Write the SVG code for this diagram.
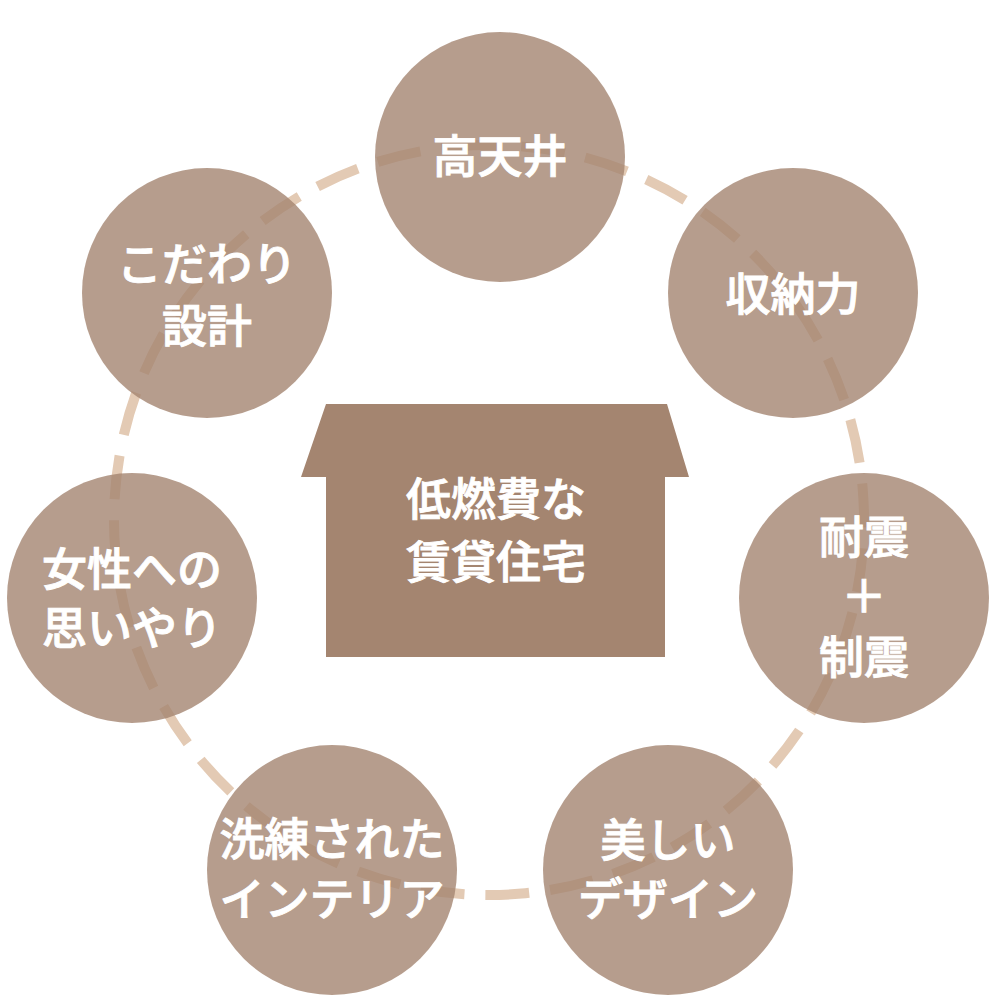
<svg xmlns="http://www.w3.org/2000/svg" width="1000" height="1000" viewBox="0 0 1000 1000">
<style>
.node{fill:#a48570;fill-opacity:0.8}
.lbl{font-family:"Noto Sans CJK JP","Noto Sans",sans-serif;font-size:45px;font-weight:500;fill:#ffffff;stroke:#ffffff;stroke-width:0.9;text-anchor:middle}
.ring{fill:none;stroke:#e3cab4;stroke-width:10;stroke-dasharray:44 21}
</style>
<rect width="1000" height="1000" fill="#ffffff"/>
<g id="connectors">
<circle class="ring" cx="489" cy="520" r="375" transform="rotate(-95 489 520)"/>
</g>
<g id="center">
<path d="M326,404 L667,404 L689,477 L665,477 L665,657 L326,657 L326,477 L301,477 Z" fill="#a48570"/>
<text class="lbl" x="496" y="516">低燃費な</text>
<text class="lbl" x="496" y="579">賃貸住宅</text>
</g>
<g id="n1"><circle class="node" cx="500" cy="157" r="125"/><text class="lbl" x="500" y="173">高天井</text></g>
<g id="n2"><circle class="node" cx="793" cy="293" r="125"/><text class="lbl" x="793" y="311">収納力</text></g>
<g id="n3"><circle class="node" cx="864" cy="598" r="125"/>
<text class="lbl" x="864" y="554">耐震</text><text class="lbl" x="864" y="613">＋</text><text class="lbl" x="864" y="674">制震</text></g>
<g id="n4"><circle class="node" cx="668" cy="870" r="125"/><text class="lbl" x="668" y="857">美しい</text><text class="lbl" x="668" y="916">デザイン</text></g>
<g id="n5"><circle class="node" cx="332" cy="870" r="125"/><text class="lbl" x="332" y="856">洗練された</text><text class="lbl" x="332" y="916">インテリア</text></g>
<g id="n6"><circle class="node" cx="132" cy="598" r="125"/><text class="lbl" x="132" y="586">女性への</text><text class="lbl" x="132" y="645">思いやり</text></g>
<g id="n7"><circle class="node" cx="207" cy="293" r="125"/><text class="lbl" x="207" y="281">こだわり</text><text class="lbl" x="207" y="343">設計</text></g>
</svg>
